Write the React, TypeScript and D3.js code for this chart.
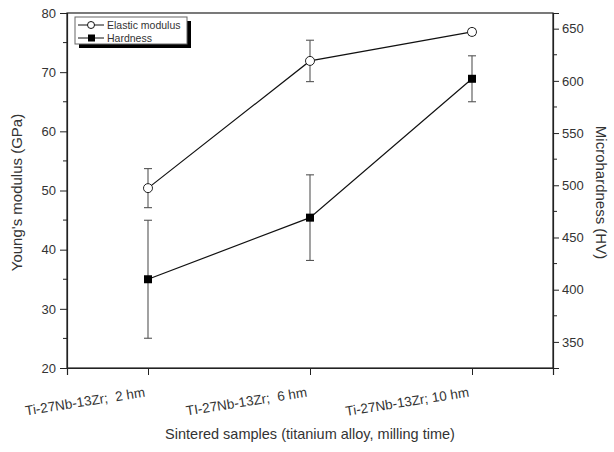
import React, { useEffect, useRef } from "react";
import * as d3 from "d3";

const categories = ["Ti-27Nb-13Zr;  2 hm", "TI-27Nb-13Zr;  6 hm", "Ti-27Nb-13Zr; 10 hm"];
const elasticModulus = [50.4, 71.9, 76.8];
const elasticErr = [3.3, 3.5, 0.5];
const hardness = [410, 469, 602];
const hardnessErr = [56.5, 41, 22];
const leftTicks = [20, 30, 40, 50, 60, 70, 80];
const rightTicks = [350, 400, 450, 500, 550, 600, 650];

const W = 614;
const H = 452;

const App: React.FC = () => {
  const svgRef = useRef<SVGSVGElement>(null);

  useEffect(() => {
    const margin = { top: 13, right: 61, bottom: 84, left: 67 };
    const width = W - margin.left - margin.right;
    const height = H - margin.top - margin.bottom;
    const font = "'Liberation Sans', Arial, sans-serif";
    const ink = "#222";

    // Clear previous render
    d3.select(svgRef.current).selectAll("*").remove();

    const root = d3.select(svgRef.current).attr("width", W).attr("height", H);
    root.append("rect").attr("width", W).attr("height", H).attr("fill", "#fff");

    const svg = root
      .append("g")
      .attr("transform", `translate(${margin.left},${margin.top})`);

    const idx = categories.map((_, i) => i + 1);
    const x = d3.scaleLinear().domain([0.5, 3.5]).range([0, width]);
    const yL = d3.scaleLinear().domain([20, 80]).range([height, 0]);
    const yR = d3.scaleLinear().domain([325, 665]).range([height, 0]);

    // frame
    svg
      .append("rect")
      .attr("width", width)
      .attr("height", height)
      .attr("fill", "none")
      .attr("stroke", ink)
      .attr("stroke-width", 1.2);

    // Left axis
    const minorL = d3.range(25, 80, 10);
    const gL = svg.append("g").call(
      d3
        .axisLeft(yL)
        .tickValues(leftTicks)
        .tickSize(7)
        .tickPadding(4)
        .tickFormat(d3.format("d"))
    );
    gL.append("g")
      .selectAll("line")
      .data(minorL)
      .join("line")
      .attr("x1", 0)
      .attr("x2", -4)
      .attr("y1", (d) => yL(d))
      .attr("y2", (d) => yL(d))
      .attr("stroke", ink);

    // Right axis
    const minorR = d3.range(375, 665, 50);
    const gR = svg
      .append("g")
      .attr("transform", `translate(${width},0)`)
      .call(
        d3
          .axisRight(yR)
          .tickValues(rightTicks)
          .tickSize(6)
          .tickPadding(3)
          .tickFormat(d3.format("d"))
      );
    gR.append("g")
      .selectAll("line")
      .data(minorR)
      .join("line")
      .attr("x1", 0)
      .attr("x2", 4)
      .attr("y1", (d) => yR(d))
      .attr("y2", (d) => yR(d))
      .attr("stroke", ink);

    // Bottom axis
    const gB = svg
      .append("g")
      .attr("transform", `translate(0,${height})`)
      .call(
        d3
          .axisBottom(x)
          .tickValues(idx)
          .tickSize(7)
          .tickFormat((d) => categories[(d as number) - 1])
      );

    [gL, gR, gB].forEach((g) => {
      g.select(".domain").attr("stroke", ink).attr("stroke-width", 1.2);
      g.selectAll(".tick line").attr("stroke", ink);
      g.selectAll("text")
        .attr("fill", "#333")
        .style("font-family", font)
        .style("font-size", "13px");
    });

    gB.selectAll("text")
      .style("text-anchor", "end")
      .style("white-space", "pre")
      .style("font-size", "13.5px")
      .attr("x", -3)
      .attr("y", 0)
      .attr("dy", 0)
      .attr("transform", "translate(0,28) rotate(-9)");

    // Axis titles
    svg
      .append("text")
      .attr("transform", `translate(${-45},${height / 2 + 2}) rotate(-90)`)
      .attr("text-anchor", "middle")
      .attr("fill", "#333")
      .style("font-family", font)
      .style("font-size", "15px")
      .text("Young's modulus (GPa)");

    svg
      .append("text")
      .attr("transform", `translate(${width + 43},${height / 2 + 2}) rotate(90)`)
      .attr("text-anchor", "middle")
      .attr("fill", "#333")
      .style("font-family", font)
      .style("font-size", "15px")
      .text("Microhardness (HV)");

    svg
      .append("text")
      .attr("x", x(2))
      .attr("y", height + 71)
      .attr("text-anchor", "middle")
      .attr("fill", "#333")
      .style("font-family", font)
      .style("font-size", "14.5px")
      .text("Sintered samples (titanium alloy, milling time)");

    // Error bars
    const cap = 4;
    const drawErr = (
      vals: number[],
      errs: number[],
      y: d3.ScaleLinear<number, number>
    ) => {
      const g = svg.append("g").attr("stroke", "#555").attr("stroke-width", 1.1);
      vals.forEach((v, i) => {
        const cx = x(i + 1);
        const t = y(v + errs[i]);
        const b = y(v - errs[i]);
        g.append("line").attr("x1", cx).attr("x2", cx).attr("y1", t).attr("y2", b);
        g.append("line").attr("x1", cx - cap).attr("x2", cx + cap).attr("y1", t).attr("y2", t);
        g.append("line").attr("x1", cx - cap).attr("x2", cx + cap).attr("y1", b).attr("y2", b);
      });
    };
    drawErr(elasticModulus, elasticErr, yL);
    drawErr(hardness, hardnessErr, yR);

    // Lines
    const lineE = d3
      .line<number>()
      .x((_, i) => x(i + 1))
      .y((d) => yL(d));
    const lineH = d3
      .line<number>()
      .x((_, i) => x(i + 1))
      .y((d) => yR(d));

    svg.append("path").attr("d", lineE(elasticModulus)).attr("fill", "none").attr("stroke", "#111").attr("stroke-width", 1.2);
    svg.append("path").attr("d", lineH(hardness)).attr("fill", "none").attr("stroke", "#111").attr("stroke-width", 1.2);

    // Markers
    svg
      .append("g")
      .selectAll("circle")
      .data(elasticModulus)
      .join("circle")
      .attr("cx", (_, i) => x(i + 1))
      .attr("cy", (d) => yL(d))
      .attr("r", 4.5)
      .attr("fill", "#fff")
      .attr("stroke", "#222")
      .attr("stroke-width", 1);

    svg
      .append("g")
      .selectAll("rect")
      .data(hardness)
      .join("rect")
      .attr("x", (_, i) => x(i + 1) - 4)
      .attr("y", (d) => yR(d) - 4)
      .attr("width", 8)
      .attr("height", 8)
      .attr("fill", "#000");

    // Legend
    const legend = root.append("g").attr("transform", "translate(75,17)");
    legend.append("rect").attr("x", 4).attr("y", 4).attr("width", 112).attr("height", 27).attr("fill", "#000");
    legend
      .append("rect")
      .attr("width", 112)
      .attr("height", 27)
      .attr("fill", "#fff")
      .attr("stroke", "#666")
      .attr("stroke-width", 1);

    const items = [
      { label: "Elastic modulus", kind: "circle" },
      { label: "Hardness", kind: "square" },
    ];
    items.forEach((it, i) => {
      const row = legend.append("g").attr("transform", `translate(0,${8 + i * 13})`);
      row.append("line").attr("x1", 3).attr("x2", 29).attr("stroke", "#111").attr("stroke-width", 1);
      if (it.kind === "circle") {
        row.append("circle").attr("cx", 16).attr("r", 3.5).attr("fill", "#fff").attr("stroke", "#111");
      } else {
        row.append("rect").attr("x", 13).attr("y", -3.5).attr("width", 7).attr("height", 7).attr("fill", "#000");
      }
      row
        .append("text")
        .attr("x", 32)
        .attr("y", 4)
        .attr("fill", "#333")
        .style("font-family", font)
        .style("font-size", "10.5px")
        .text(it.label);
    });
  }, []);

  return (
    <div style={{ position: "absolute", left: 0, top: 0 }}>
      <svg ref={svgRef} style={{ display: "block" }}></svg>
    </div>
  );
};

export default App;
